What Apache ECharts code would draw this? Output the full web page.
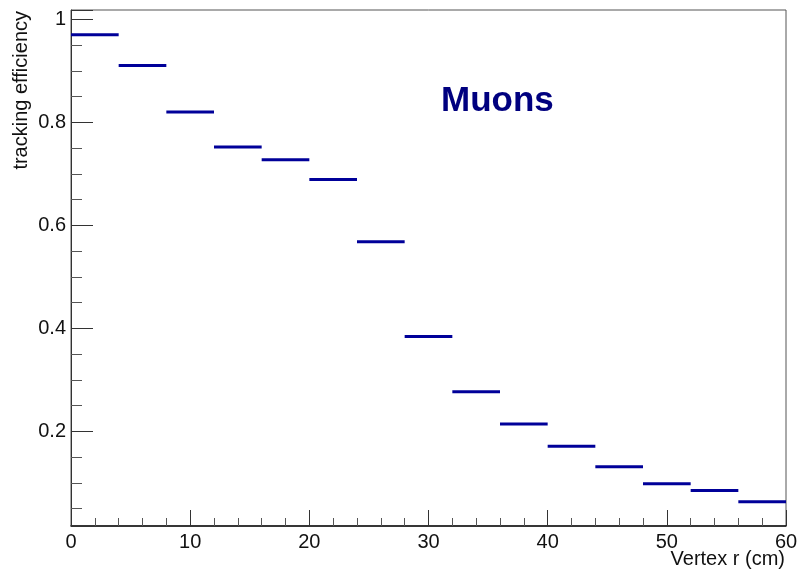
<!DOCTYPE html>
<html>
<head>
<meta charset="utf-8">
<script src="https://cdn.jsdelivr.net/npm/echarts@6/dist/echarts.min.js"></script>
<style>
html,body{margin:0;padding:0;background:#fff;}
#chart{width:801px;height:576px;}
</style>
</head>
<body>
<div id="chart"></div>
<script>
// Bin edges (cm) and tracking efficiency per bin
var binLow  = [0, 4, 8, 12, 16, 20, 24, 28, 32, 36, 40, 44, 48, 52, 56];
var binHigh = [4, 8, 12, 16, 20, 24, 28, 32, 36, 40, 44, 48, 52, 56, 60];
var efficiency = [0.970, 0.910, 0.820, 0.752, 0.727, 0.689, 0.568, 0.384, 0.277, 0.214, 0.171, 0.131, 0.098, 0.085, 0.063];

var xTitle = 'Vertex r (cm)';
var yTitle = 'tracking efficiency';
var label = 'Muons';

var data = binLow.map(function (lo, i) { return [lo, binHigh[i], efficiency[i]]; });

var FONT = '"Liberation Sans", Arial, Helvetica, sans-serif';
var chart = echarts.init(document.getElementById('chart'), null, {renderer: 'canvas'});
chart.setOption({
  animation: false,
  backgroundColor: '#ffffff',
  grid: {left: 71, top: 10, right: 15, bottom: 50, show: true, borderColor: '#555', borderWidth: 1, backgroundColor: 'transparent'},
  xAxis: {
    type: 'value', min: 0, max: 60, interval: 10,
    axisLine: {show: true, lineStyle: {color: '#111', width: 1.5}},
    axisTick: {show: true, inside: true, length: 16, lineStyle: {color: '#333', width: 1}},
    minorTick: {show: true, splitNumber: 5, length: 8, lineStyle: {color: '#555', width: 1}},
    axisLabel: {show: true, margin: 6, fontFamily: FONT, fontSize: 20, color: '#111'},
    splitLine: {show: false}
  },
  yAxis: {
    type: 'value', min: 0.0161, max: 1.018, splitNumber: 5,
    axisLine: {show: true, lineStyle: {color: '#333', width: 1}},
    axisTick: {show: true, inside: true, length: 22, lineStyle: {color: '#333', width: 1}},
    minorTick: {show: true, splitNumber: 4, length: 11, lineStyle: {color: '#555', width: 1}},
    axisLabel: {show: true, margin: 5, fontFamily: FONT, fontSize: 20, color: '#111',
      showMinLabel: false, showMaxLabel: false,
      formatter: function (v) { return String(+v.toFixed(2)); }},
    splitLine: {show: false}
  },
  series: [{
    type: 'custom',
    data: data,
    encode: {x: [0, 1], y: 2},
    clip: true,
    renderItem: function (params, api) {
      var p0 = api.coord([api.value(0), api.value(2)]);
      var p1 = api.coord([api.value(1), api.value(2)]);
      return {
        type: 'line',
        shape: {x1: p0[0], y1: p0[1], x2: p1[0], y2: p1[1]},
        style: {stroke: '#000099', lineWidth: 3, lineCap: 'butt'}
      };
    }
  }],
  graphic: [
    {type: 'text', x: 441, y: 101, silent: true,
     style: {text: label, font: 'bold 35px ' + FONT, fill: '#00007f', align: 'left', verticalAlign: 'middle', textAlign: 'left', textVerticalAlign: 'middle'}},
    {type: 'text', x: 785, y: 559, silent: true,
     style: {text: xTitle, font: '20px ' + FONT, fill: '#111', align: 'right', verticalAlign: 'middle', textAlign: 'right', textVerticalAlign: 'middle'}},
    {type: 'text', x: 21, y: 11, rotation: Math.PI / 2, silent: true,
     style: {text: yTitle, font: '20px ' + FONT, fill: '#111', align: 'right', verticalAlign: 'middle', textAlign: 'right', textVerticalAlign: 'middle'}}
  ]
});
</script>
</body>
</html>
